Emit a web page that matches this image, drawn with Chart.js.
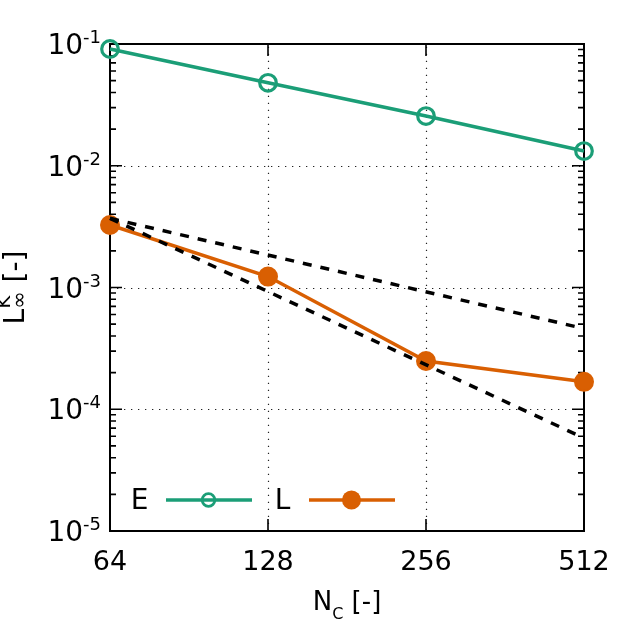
<!DOCTYPE html>
<html><head><meta charset="utf-8">
<script src="https://cdn.jsdelivr.net/npm/chart.js@4/dist/chart.umd.min.js"></script>
<style>html,body{margin:0;padding:0;background:#fff}#wrap{width:623px;height:623px}</style>
</head><body><div id="wrap"><canvas id="c" width="623" height="623"></canvas></div>
<script>
// ---- data ----
const nc = [64, 128, 256, 512];
const errE = [0.091, 0.048, 0.0256, 0.0132];
const errL = [0.00326, 0.00123, 0.000249, 0.000168];
const refX = [64, 512];
const refFirstOrder = [0.0037, 0.00046];
const refSecondOrder = [0.0037, 0.000058];
const xTicks = [64, 128, 256, 512];
const yTicks = [1e-5, 1e-4, 1e-3, 1e-2, 1e-1];
const yTickExponents = ['-5', '-4', '-3', '-2', '-1'];
const seriesNames = ['E', 'L'];
const xTitleParts = ['N', 'C', ' [-]'];
const yTitleParts = ['L', 'K', '\u221E', ' [-]'];

const FONT = "'DejaVu Sans', sans-serif";
const GREEN = '#1b9e77';
const ORANGE = '#d95f02';

const pts = (xs, ys) => xs.map((x, i) => ({x: x, y: ys[i]}));

const framePlugin = {
  id: 'frame',
  beforeDatasetsDraw(chart) {
    const {ctx, chartArea: a, scales: {x, y}} = chart;
    ctx.save();
    // dotted grid
    ctx.strokeStyle = '#222';
    ctx.lineWidth = 1.2;
    ctx.setLineDash([1.3, 5.7]);
    xTicks.forEach(v => {
      const px = Math.round(x.getPixelForValue(v)) + 0.5;
      if (px <= a.left + 2 || px >= a.right - 2) return;
      ctx.beginPath(); ctx.moveTo(px, a.bottom); ctx.lineTo(px, a.top); ctx.stroke();
    });
    yTicks.forEach(v => {
      const py = Math.round(y.getPixelForValue(v)) + 0.5;
      if (py <= a.top + 2 || py >= a.bottom - 2) return;
      ctx.beginPath(); ctx.moveTo(a.left, py); ctx.lineTo(a.right, py); ctx.stroke();
    });
    ctx.setLineDash([]);
    // ticks
    ctx.strokeStyle = '#000';
    ctx.lineWidth = 1.6;
    const major = 12, minor = 6;
    for (let e = -5; e <= -1; e++) {
      for (let m = 1; m <= 9; m++) {
        const v = m * Math.pow(10, e);
        if (v > 0.1000001) break;
        const py = y.getPixelForValue(v);
        const len = m === 1 ? major : minor;
        ctx.beginPath();
        ctx.moveTo(a.left, py); ctx.lineTo(a.left + len, py);
        ctx.moveTo(a.right, py); ctx.lineTo(a.right - len, py);
        ctx.stroke();
      }
    }
    xTicks.forEach(v => {
      const px = x.getPixelForValue(v);
      ctx.beginPath();
      ctx.moveTo(px, a.bottom); ctx.lineTo(px, a.bottom - major);
      ctx.moveTo(px, a.top); ctx.lineTo(px, a.top + major);
      ctx.stroke();
    });
    // border
    ctx.lineWidth = 2;
    ctx.strokeRect(a.left, a.top, a.right - a.left, a.bottom - a.top);
    ctx.restore();
  },
  afterDraw(chart) {
    const {ctx, chartArea: a, scales: {y}} = chart;
    ctx.save();
    ctx.fillStyle = '#000';
    ctx.textBaseline = 'alphabetic';
    ctx.textAlign = 'left';
    // y tick labels: 10 with raised exponent
    const labBig = '28px ' + FONT, labSmall = '18px ' + FONT;
    yTicks.forEach((v, i) => {
      const py = y.getPixelForValue(v);
      const ex = yTickExponents[i];
      ctx.font = labBig; const w10 = ctx.measureText('10').width;
      ctx.font = labSmall; const wE = ctx.measureText(ex).width;
      const x0 = a.left - 9 - (w10 + wE);
      ctx.font = labBig; ctx.fillText('10', x0, py + 10);
      ctx.font = labSmall; ctx.fillText(ex, x0 + w10, py - 1);
    });
    // x title
    const big = '26px ' + FONT, small = '16px ' + FONT;
    ctx.font = big; const wN = ctx.measureText(xTitleParts[0]).width;
    const wB = ctx.measureText(xTitleParts[2]).width;
    ctx.font = small; const wC = ctx.measureText(xTitleParts[1]).width;
    const cx = (a.left + a.right) / 2;
    let sx = cx - (wN + wC + wB) / 2;
    const by = 610;
    ctx.font = big; ctx.fillText(xTitleParts[0], sx, by);
    ctx.font = small; ctx.fillText(xTitleParts[1], sx + wN, by + 9);
    ctx.font = big; ctx.fillText(xTitleParts[2], sx + wN + wC, by);
    // y title (rotated)
    ctx.save();
    const cy = (a.top + a.bottom) / 2;
    ctx.translate(24, cy);
    ctx.rotate(-Math.PI / 2);
    const tBig = '28px ' + FONT, tSup = '20px ' + FONT, tSub = '21px ' + FONT;
    ctx.font = tBig; const wL = ctx.measureText(yTitleParts[0]).width;
    const wBr = ctx.measureText(yTitleParts[3]).width;
    ctx.font = tSup; const wK = ctx.measureText(yTitleParts[1]).width;
    ctx.font = tSub; const wI = ctx.measureText(yTitleParts[2]).width;
    const wMid = Math.max(wK, wI);
    let tx = -(wL + wMid + wBr) / 2;
    ctx.font = tBig; ctx.fillText(yTitleParts[0], tx, 0);
    ctx.font = tSup; ctx.fillText(yTitleParts[1], tx + wL, -14);
    ctx.font = tSub; ctx.fillText(yTitleParts[2], tx + wL, 2);
    ctx.font = tBig; ctx.fillText(yTitleParts[3], tx + wL + wMid, 0);
    ctx.restore();
    // legend inside plot
    const ly = 500;
    const entries = chart.data.datasets.filter(d => seriesNames.includes(d.label));
    entries.forEach((d, i) => {
      const ox = i * 143;
      ctx.font = '28px ' + FONT; ctx.textAlign = 'center'; ctx.textBaseline = 'middle';
      ctx.fillStyle = '#000';
      ctx.fillText(d.label, 139.5 + ox, ly + 2);
      ctx.strokeStyle = d.borderColor; ctx.lineWidth = 3.5;
      ctx.beginPath(); ctx.moveTo(166 + ox, ly); ctx.lineTo(252 + ox, ly); ctx.stroke();
      ctx.beginPath();
      if (d.pointBackgroundColor === 'transparent') {
        ctx.lineWidth = 2.8;
        ctx.arc(208.5 + ox, ly, 6.3, 0, Math.PI * 2); ctx.stroke();
      } else {
        ctx.fillStyle = d.borderColor;
        ctx.arc(208.5 + ox, ly, 9.5, 0, Math.PI * 2); ctx.fill();
      }
    });
    ctx.restore();
  }
};

new Chart(document.getElementById('c'), {
  type: 'line',
  data: {
    datasets: [
      {label: '', data: pts(refX, refFirstOrder), borderColor: '#000', borderWidth: 3.5, borderDash: [9, 9], pointRadius: 0, clip: false},
      {label: '', data: pts(refX, refSecondOrder), borderColor: '#000', borderWidth: 3.5, borderDash: [9, 9], pointRadius: 0, clip: false},
      {label: seriesNames[0], data: pts(nc, errE), borderColor: GREEN, borderWidth: 3.5, pointRadius: 8.3, pointBorderWidth: 3.2, pointBackgroundColor: 'transparent', pointBorderColor: GREEN, clip: false},
      {label: seriesNames[1], data: pts(nc, errL), borderColor: ORANGE, borderWidth: 3.5, pointRadius: 9, pointBorderWidth: 2, pointBackgroundColor: ORANGE, pointBorderColor: ORANGE, clip: false}
    ]
  },
  options: {
    responsive: false,
    devicePixelRatio: 1,
    animation: false,
    layout: {padding: {top: 44, right: 39, left: 0, bottom: 0}},
    plugins: {legend: {display: false}, tooltip: {enabled: false}},
    elements: {line: {tension: 0}},
    scales: {
      x: {
        type: 'logarithmic', min: 64, max: 512, bounds: 'data',
        afterBuildTicks: s => { s.ticks = xTicks.map(v => ({value: v})); },
        afterFit: s => { s.height = 92; },
        grid: {display: false, drawTicks: true, tickLength: 16},
        border: {display: false},
        ticks: {callback: v => String(v), font: {family: FONT, size: 27}, color: '#000', padding: 0, maxRotation: 0, autoSkip: false}
      },
      y: {
        type: 'logarithmic', min: 1e-5, max: 1e-1, bounds: 'data',
        afterBuildTicks: s => { s.ticks = yTicks.map(v => ({value: v})); },
        afterFit: s => { s.width = 110; },
        grid: {display: false, drawTicks: false},
        border: {display: false},
        ticks: {display: false}
      }
    }
  },
  plugins: [framePlugin]
});
</script>
</body></html>
